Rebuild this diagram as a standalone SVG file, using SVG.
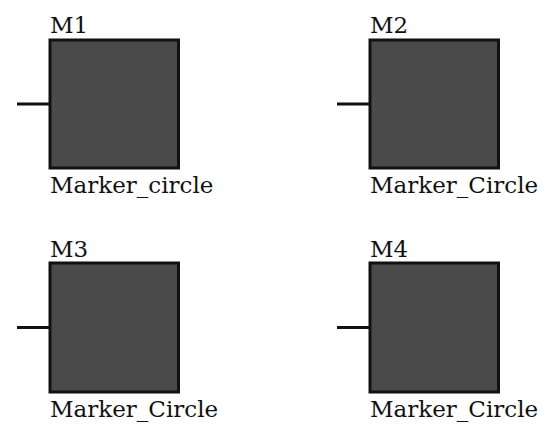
<svg xmlns="http://www.w3.org/2000/svg" width="554" height="427" viewBox="0 0 554 427">
<style>
.box{fill:#4a4a4a;stroke:#111;stroke-width:3}
.lead{stroke:#111;stroke-width:3;fill:none}
.lbl{font-family:'DejaVu Serif','Liberation Serif',serif;font-size:23px;fill:#111}
</style>
<rect width="554" height="427" fill="#fff"/>
<g id="connectors">
<line class="lead" x1="17" y1="104" x2="50" y2="104"/>
<line class="lead" x1="337" y1="104" x2="370" y2="104"/>
<line class="lead" x1="17" y1="327.5" x2="50" y2="327.5"/>
<line class="lead" x1="337" y1="327.5" x2="370" y2="327.5"/>
</g>
<g id="M1">
<rect class="box" x="50" y="40" width="128.5" height="128"/>
<text class="lbl" x="50" y="33">M1</text>
<text class="lbl" x="50" y="193">Marker_circle</text>
</g>
<g id="M2">
<rect class="box" x="370" y="40" width="128.5" height="128"/>
<text class="lbl" x="370" y="33">M2</text>
<text class="lbl" x="370" y="193">Marker_Circle</text>
</g>
<g id="M3">
<rect class="box" x="50" y="263" width="128.5" height="129"/>
<text class="lbl" x="50" y="256.5">M3</text>
<text class="lbl" x="50" y="416.5">Marker_Circle</text>
</g>
<g id="M4">
<rect class="box" x="370" y="263" width="128.5" height="129"/>
<text class="lbl" x="370" y="256.5">M4</text>
<text class="lbl" x="370" y="416.5">Marker_Circle</text>
</g>
</svg>
